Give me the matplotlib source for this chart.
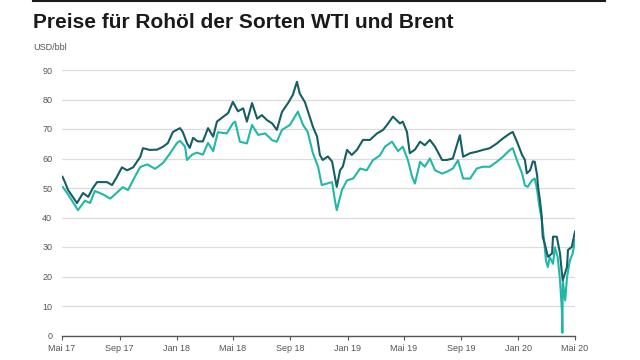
import matplotlib
matplotlib.use("Agg")
import matplotlib.pyplot as plt
import matplotlib.dates as mdates
import pandas as pd

plt.rcParams["font.family"] = ["Liberation Sans", "DejaVu Sans"]

# Brent (dark line), USD/bbl
brent_dates = [
    "2017-05-02", "2017-05-07", "2017-05-14", "2017-05-24", "2017-06-02", "2017-06-15",
    "2017-06-26", "2017-07-06", "2017-07-15", "2017-08-05", "2017-08-16", "2017-08-26",
    "2017-09-06", "2017-09-17", "2017-09-30", "2017-10-15", "2017-10-21", "2017-11-05",
    "2017-11-20", "2017-12-03", "2017-12-13", "2017-12-24", "2018-01-08", "2018-01-14",
    "2018-01-23", "2018-01-29", "2018-02-05", "2018-02-15", "2018-02-26", "2018-03-09",
    "2018-03-20", "2018-03-28", "2018-04-10", "2018-04-21", "2018-05-01", "2018-05-12",
    "2018-05-23", "2018-05-31", "2018-06-11", "2018-06-22", "2018-07-02", "2018-07-13",
    "2018-07-24", "2018-08-03", "2018-08-14", "2018-08-27", "2018-09-06", "2018-09-15",
    "2018-09-21", "2018-10-02", "2018-10-08", "2018-10-19", "2018-10-28", "2018-11-03",
    "2018-11-09", "2018-11-20", "2018-11-29", "2018-12-05", "2018-12-09", "2018-12-16",
    "2018-12-22", "2018-12-31", "2019-01-10", "2019-01-21", "2019-02-03", "2019-02-18",
    "2019-03-05", "2019-03-18", "2019-03-26", "2019-04-08", "2019-04-23", "2019-04-29",
    "2019-05-08", "2019-05-14", "2019-05-25", "2019-06-05", "2019-06-15", "2019-06-26",
    "2019-07-07", "2019-07-22", "2019-08-01", "2019-08-14", "2019-08-29", "2019-09-05",
    "2019-09-20", "2019-10-04", "2019-10-17", "2019-11-01", "2019-11-16", "2019-11-29",
    "2019-12-14", "2019-12-20", "2019-12-29", "2020-01-09", "2020-01-15", "2020-01-19",
    "2020-01-26", "2020-02-01", "2020-02-05", "2020-02-10", "2020-02-12", "2020-02-16",
    "2020-02-20", "2020-02-22", "2020-02-27", "2020-03-04", "2020-03-13", "2020-03-15",
    "2020-03-23", "2020-03-30", "2020-04-03", "2020-04-05", "2020-04-14", "2020-04-16",
    "2020-04-24", "2020-05-01",
]
brent_values = [
    53.8, 52.1, 49.3, 47.0, 44.9, 48.3,
    47.0, 50.0, 52.0, 52.0, 51.0, 53.7,
    57.0, 56.0, 57.0, 60.5, 63.5, 62.9,
    63.0, 64.0, 65.2, 69.0, 70.3, 69.0,
    65.2, 63.6, 67.0, 65.8, 65.8, 70.3,
    67.4, 72.5, 74.1, 75.4, 79.2, 76.0,
    77.0, 72.5, 78.8, 73.5, 74.7, 73.0,
    71.9, 69.7, 75.8, 78.8, 81.5, 86.0,
    82.0, 79.1, 76.2, 70.8, 67.4, 61.2,
    59.5, 60.7, 59.0, 53.8, 50.4, 56.0,
    57.3, 62.9, 61.2, 62.9, 66.3, 66.3,
    68.5, 69.7, 71.3, 74.2, 71.9, 72.5,
    69.0, 61.8, 63.0, 65.7, 64.5, 66.3,
    64.0, 59.5, 59.5, 60.0, 67.9, 60.6,
    61.8, 62.3, 62.9, 63.5, 65.1, 66.8,
    68.5, 69.0, 65.7, 61.2, 59.5, 55.0,
    56.0, 59.0, 58.9, 54.4, 50.5, 46.0,
    40.3, 33.5, 30.7, 26.7, 27.8, 33.5,
    33.5, 27.8, 21.1, 18.8, 23.3, 29.0,
    30.0, 35.2,
]

# WTI (light line), USD/bbl
wti_dates = [
    "2017-05-03", "2017-05-14", "2017-05-24", "2017-06-04", "2017-06-19", "2017-06-30",
    "2017-07-10", "2017-07-28", "2017-08-12", "2017-08-22", "2017-09-08", "2017-09-19",
    "2017-09-30", "2017-10-15", "2017-10-30", "2017-11-16", "2017-12-03", "2017-12-18",
    "2018-01-02", "2018-01-08", "2018-01-19", "2018-01-23", "2018-02-03", "2018-02-13",
    "2018-02-26", "2018-03-09", "2018-03-20", "2018-03-30", "2018-04-18", "2018-05-01",
    "2018-05-06", "2018-05-16", "2018-05-31", "2018-06-11", "2018-06-24", "2018-07-09",
    "2018-07-24", "2018-08-03", "2018-08-14", "2018-08-31", "2018-09-17", "2018-09-28",
    "2018-10-08", "2018-10-19", "2018-10-30", "2018-11-07", "2018-11-18", "2018-11-29",
    "2018-12-05", "2018-12-09", "2018-12-20", "2018-12-31", "2019-01-13", "2019-01-28",
    "2019-02-11", "2019-02-24", "2019-03-11", "2019-03-22", "2019-04-06", "2019-04-19",
    "2019-04-29", "2019-05-10", "2019-05-19", "2019-05-25", "2019-06-05", "2019-06-15",
    "2019-06-26", "2019-07-07", "2019-07-22", "2019-08-01", "2019-08-14", "2019-08-25",
    "2019-09-05", "2019-09-20", "2019-10-04", "2019-10-17", "2019-11-01", "2019-11-16",
    "2019-11-29", "2019-12-14", "2019-12-20", "2019-12-29", "2020-01-09", "2020-01-15",
    "2020-01-21", "2020-01-30", "2020-02-05", "2020-02-10", "2020-02-14", "2020-02-20",
    "2020-02-25", "2020-02-29", "2020-03-04", "2020-03-08", "2020-03-15", "2020-03-19",
    "2020-03-25", "2020-03-30", "2020-04-03", "2020-04-04", "2020-04-05", "2020-04-10",
    "2020-04-14", "2020-04-20", "2020-04-26", "2020-05-01",
]
wti_values = [
    50.3, 47.8, 45.3, 42.5, 45.7, 44.9,
    49.0, 47.8, 46.4, 47.8, 50.3, 49.3,
    52.7, 57.1, 58.0, 56.5, 58.5, 61.8,
    65.3, 66.0, 64.0, 59.5, 61.3, 62.0,
    61.3, 65.3, 62.5, 68.9, 68.5, 71.9,
    72.5, 65.7, 65.1, 71.4, 68.0, 68.5,
    66.2, 65.7, 69.7, 71.4, 75.9, 71.4,
    69.0, 61.8, 57.3, 51.0, 51.5, 52.0,
    45.9, 42.5, 49.3, 52.6, 53.2, 56.6,
    56.0, 59.4, 61.0, 64.0, 65.7, 62.5,
    64.0, 59.5, 53.8, 51.5, 58.9, 57.2,
    60.0, 56.0, 54.9, 55.5, 56.6, 59.4,
    53.2, 53.2, 56.6, 57.2, 57.2, 58.9,
    60.6, 62.9, 63.5, 59.4, 54.9, 50.9,
    50.4, 52.6, 53.2, 49.5, 44.7, 39.0,
    32.3, 25.4, 23.2, 26.6, 24.3, 29.9,
    26.6, 18.7, 8.6, 0.9, 18.7, 11.9,
    19.8, 25.4, 27.8, 32.3,
]

x_ticks = ["2017-05-01", "2017-09-01", "2018-01-01", "2018-05-01", "2018-09-01",
           "2019-01-01", "2019-05-01", "2019-09-01", "2020-01-01", "2020-05-01"]
x_labels = ["Mai 17", "Sep 17", "Jan 18", "Mai 18", "Sep 18",
            "Jan 19", "Mai 19", "Sep 19", "Jan 20", "Mai 20"]
y_ticks = [0, 10, 20, 30, 40, 50, 60, 70, 80, 90]

BRENT_COLOR = "#155e63"
WTI_COLOR = "#22b8a8"

fig = plt.figure(figsize=(6.4, 3.6), dpi=100)
ax = fig.add_axes([62 / 640, 1 - 335.5 / 360, (575 - 62) / 640, (335.5 - 70) / 360])

ax.plot(pd.to_datetime(wti_dates), wti_values, color=WTI_COLOR, lw=1.5, zorder=3)
ax.plot(pd.to_datetime(brent_dates), brent_values, color=BRENT_COLOR, lw=1.5, zorder=4)

ax.set_xlim(pd.Timestamp("2017-05-01"), pd.Timestamp("2020-05-01"))
ax.set_ylim(0, 90)
ax.set_yticks(y_ticks)
ax.set_xticks(pd.to_datetime(x_ticks))
ax.set_xticklabels(x_labels)

ax.grid(axis="y", color="#dcdcdc", lw=0.9)
ax.set_axisbelow(True)
for side in ["top", "right", "left"]:
    ax.spines[side].set_visible(False)
ax.spines["bottom"].set_color("#555555")
ax.spines["bottom"].set_linewidth(1.0)
ax.tick_params(axis="y", length=0, pad=7, labelsize=6.5, labelcolor="#555555")
ax.tick_params(axis="x", length=3, width=0.8, color="#555555", pad=3,
               labelsize=6.5, labelcolor="#555555")

# header
fig.add_artist(plt.Line2D([33 / 640, 605 / 640], [1 - 1 / 360, 1 - 1 / 360],
                          color="#1a1a1a", lw=1.5))
fig.text(33 / 640, 1 - 28 / 360, "Preise für Rohöl der Sorten WTI und Brent",
         fontsize=15, fontweight="bold", color="#1a1a1a", ha="left", va="baseline")
fig.text(33 / 640, 1 - 50 / 360, "USD/bbl", fontsize=6.5, color="#555555",
         ha="left", va="baseline")

fig.savefig("out.png", dpi=100)
